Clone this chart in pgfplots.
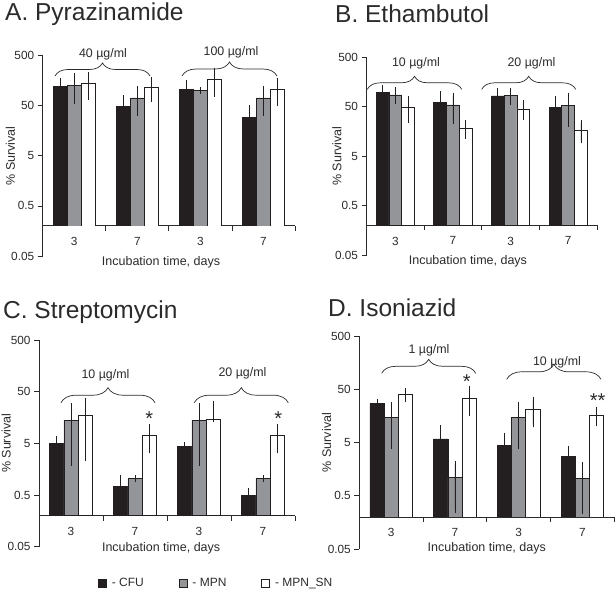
\documentclass[border=0pt]{standalone}
\usepackage{fontspec}
\setmainfont{Liberation Sans}
\usepackage{pgfplots}
\pgfplotsset{compat=1.18}
\usetikzlibrary{decorations.pathreplacing}
\definecolor{cfu}{HTML}{231F20}
\definecolor{mpn}{HTML}{939598}
\definecolor{ink}{HTML}{2B2B2B}
\pgfplotsset{
  yonly/.style={scale only axis, anchor=south west, axis y line*=left, axis x line=none,
    ymin=0.05, ymax=500, xmin=-0.5, xmax=3.5,
    ytick={0.05,0.5,5,50,500}, yticklabels={0.05,0.5,5,50,500}, yminorticks=false,
    tick align=outside, major tick length=5pt,
    axis line style={ink, line width=0.8pt}, ytick style={ink, line width=0.8pt},
    yticklabel style={font=\fontsize{11.8}{13}\selectfont, text=ink},
    ylabel={\% Survival}, ylabel style={font=\fontsize{12.5}{14}\selectfont, text=ink,
      at={(axis description cs:-0.128,0.5)}, anchor=center}},
  barax/.style={scale only axis, anchor=south west, axis x line*=bottom, axis y line=none,
    ymin=0.2, ymax=500, xmin=-0.5, xmax=3.5, ytick={1000}, bar width=0.222, log origin y=infty,
    xtick={0,1,2,3}, xticklabels={3,7,3,7}, minor xtick={0.5,1.5,2.5,3.5},
    tick align=outside, major tick length=0pt, minor tick length=5pt,
    axis line style={ink, line width=0.8pt}, xtick style={ink, line width=0.8pt},
    xticklabel style={font=\fontsize{11.8}{13}\selectfont, text=ink, yshift=-8pt},
    xlabel={Incubation time, days}, xlabel style={font=\fontsize{12.5}{14}\selectfont, text=ink, anchor=center}},
  eb/.style={/pgfplots/error bars/y dir=both, /pgfplots/error bars/y explicit,
    /pgfplots/error bars/error bar style={cfu, line width=0.6pt},
    /pgfplots/error bars/error mark options={cfu, mark size=3pt, line width=0.6pt}},
  cfubar/.style={fill=cfu, draw=cfu, line width=0.6pt, bar shift=-0.222, forget plot, eb},
  mpnbar/.style={fill=mpn, draw=cfu, line width=0.6pt, bar shift=0, forget plot, eb},
  snbar/.style={fill=white, draw=cfu, line width=0.6pt, bar shift=0.222, forget plot, eb},
}
\newcommand{\grpbrace}[4]{\draw[ink, line width=0.7pt, decorate, decoration={brace, amplitude=#4pt}] (#1pt,#3pt) -- (#2pt,#3pt);}
\begin{document}
\begin{tikzpicture}
\useasboundingbox (0,0) rectangle (615pt,595pt);
% ---------- A ----------
\begin{semilogyaxis}[ybar, barax, at={(42.7pt,369.15pt)}, width=252.3pt, height=170.15pt,
  xlabel style={at={(axis description cs:0.469,0)}, yshift=-36pt}]
\addplot[cfubar] coordinates {(0,120) +- (0,34) (1,48) +- (0,22) (2,108) +- (0,32) (3,29.8) +- (0,16)};
\addplot[mpnbar] coordinates {(0,128) +- (0,65) (1,71.5) +- (0,35) (2,101) +- (0,2) (3,71.5) +- (0,35)};
\addplot[snbar] coordinates {(0,140) +- (0,64) (1,115) +- (0,47) (2,169) +- (0,83) (3,106) +- (0,48)};
\end{semilogyaxis}
\begin{semilogyaxis}[yonly, at={(42.7pt,339pt)}, width=252.3pt, height=200.3pt]
\addplot[draw=none, forget plot] coordinates {(0,1)};
\end{semilogyaxis}
% ---------- B ----------
\begin{semilogyaxis}[ybar, barax, at={(366.5pt,369.75pt)}, width=230.5pt, height=167.95pt,
  xlabel style={at={(axis description cs:0.44,0)}, yshift=-36pt}]
\addplot[cfubar] coordinates {(0,98) +- (0,20) (1,60.5) +- (0,28) (2,82.5) +- (0,20) (3,47.9) +- (0,23)};
\addplot[mpnbar] coordinates {(0,86.5) +- (0,21) (1,54.3) +- (0,29) (2,83.8) +- (0,22) (3,52.6) +- (0,30)};
\addplot[snbar] coordinates {(0,49.4) +- (0,22) (1,18.3) +- (0,5.3) (2,45) +- (0,14) (3,16.9) +- (0,6.5)};
\end{semilogyaxis}
\begin{semilogyaxis}[yonly, at={(366.5pt,340pt)}, width=230.5pt, height=197.7pt]
\addplot[draw=none, forget plot] coordinates {(0,1)};
\end{semilogyaxis}
% ---------- C ----------
\begin{semilogyaxis}[ybar, barax, at={(39pt,79.41pt)}, width=256pt, height=175.59pt,
  xlabel style={at={(axis description cs:0.477,0)}, yshift=-32.4pt},
  legend style={at={(axis description cs:0.219,-0.384)}, anchor=west, draw=none, fill=none,
    font=\fontsize{12}{14}\selectfont, text=ink, legend columns=3,
    /tikz/every odd column/.append style={column sep=3pt},
    /tikz/every even column/.append style={column sep=33pt}},
  legend image code/.code={\draw[#1] (0pt,-4pt) rectangle (8pt,4pt);}]
\addlegendimage{fill=cfu, draw=cfu, line width=0.6pt}
\addlegendentry{- CFU}
\addlegendimage{fill=mpn, draw=cfu, line width=0.6pt}
\addlegendentry{- MPN}
\addlegendimage{fill=white, draw=cfu, line width=0.6pt}
\addlegendentry{- MPN\_SN}
\addplot[cfubar] coordinates {(0,4.93) +- (0,1.1) (1,0.746) +- (0,0.3) (2,4.3) +- (0,0.35) (3,0.5) +- (0,0.1)};
\addplot[mpnbar] coordinates {(0,14.1) +- (0,12) (1,1.035) +- (0,0.03) (2,14.1) +- (0,12) (3,1.035) +- (0,0.03)};
\addplot[snbar] coordinates {(0,17.6) +- (0,15) (1,7.04) +- (0,3.4) (2,14.6) += (0,14.7) -= (0,0) (3,7.04) +- (0,3.4)};
\end{semilogyaxis}
\begin{semilogyaxis}[yonly, at={(39pt,48.3pt)}, width=256pt, height=206.7pt]
\addplot[draw=none, forget plot] coordinates {(0,1)};
\end{semilogyaxis}
% ---------- D ----------
\begin{semilogyaxis}[ybar, barax, at={(359.3pt,78.06pt)}, width=255pt, height=180.94pt,
  xlabel style={at={(axis description cs:0.5,0)}, yshift=-31.6pt}]
\addplot[cfubar] coordinates {(0,26.8) +- (0,2.4) (1,5.82) +- (0,3.4) (2,4.36) +- (0,2.4) (3,2.75) +- (0,1)};
\addplot[mpnbar] coordinates {(0,14.9) +- (0,10.6) (1,1.12) +- (0,0.85) (2,14.9) +- (0,10.6) (3,1.06) +- (0,0.8)};
\addplot[snbar] coordinates {(0,39.6) +- (0,7) (1,33.8) +- (0,16) (2,21) +- (0,10) (3,15.9) +- (0,4.5)};
\end{semilogyaxis}
\begin{semilogyaxis}[yonly, at={(359.3pt,46pt)}, width=255pt, height=213pt]
\addplot[draw=none, forget plot] coordinates {(0,1)};
\end{semilogyaxis}
% ---------- titles ----------
\begin{scope}[every node/.style={anchor=base west, inner sep=0pt, text=ink, font=\fontsize{24.5}{28}\selectfont}]
\node at (5pt,574pt) {A. Pyrazinamide};
\node at (335pt,572.3pt) {B. Ethambutol};
\node at (3pt,276.7pt) {C. Streptomycin};
\node at (328pt,278.3pt) {D. Isoniazid};
\end{scope}
% ---------- braces ----------
\grpbrace{55}{150}{519}{13}
\grpbrace{182}{277}{519}{14}
\grpbrace{367.3}{461.7}{505.7}{13}
\grpbrace{481.7}{575.7}{505.7}{13}
\grpbrace{61}{155}{192.3}{15}
\grpbrace{194.3}{288.3}{192.3}{15}
\grpbrace{381.7}{475.7}{221.7}{14}
\grpbrace{506.7}{601}{215.7}{15}
\begin{scope}[every node/.style={inner sep=0pt, text=ink, font=\fontsize{12.4}{14}\selectfont}]
\node at (103pt,540.7pt) {40 µg/ml};
\node at (231pt,542.3pt) {100 µg/ml};
\node at (416pt,531.3pt) {10 µg/ml};
\node at (531.5pt,531.3pt) {20 µg/ml};
\node at (105.5pt,219.7pt) {10 µg/ml};
\node at (242.5pt,221.3pt) {20 µg/ml};
\node at (429pt,244.7pt) {1 µg/ml};
\node at (557pt,233pt) {10 µg/ml};
\end{scope}
% ---------- significance ----------
\begin{scope}[every node/.style={inner sep=0pt, text=ink, font=\fontsize{20}{22}\selectfont}]
\node at (149.3pt,176pt) {*};
\node at (278.3pt,176pt) {*};
\node at (466.7pt,213.7pt) {*};
\node at (597.7pt,194.3pt) {**};
\end{scope}
\end{tikzpicture}
\end{document}
